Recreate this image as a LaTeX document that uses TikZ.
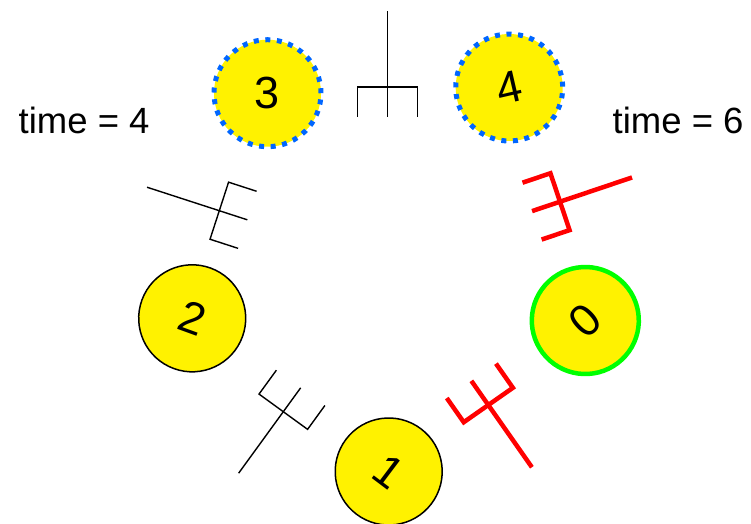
\documentclass[tikz,border=0pt]{standalone}
\usepackage{fontspec}
\setmainfont{Liberation Sans}
\definecolor{dotblue}{RGB}{0,102,255}
\definecolor{eatgreen}{RGB}{0,255,0}
\begin{document}
\begin{tikzpicture}[x=1pt,y=1pt,
  phil/.style={circle, fill=yellow, draw=black, line width=1.5pt,
    minimum size=107pt, inner sep=0pt, font=\fontsize{45}{45}\selectfont},
  eating/.style={draw=eatgreen, line width=4.5pt},
  waiting/.style={draw=dotblue, line width=5pt, dash pattern=on 5pt off 6.6pt},
  idlefork/.style={black, line width=1.4pt},
  heldfork/.style={red, line width=4.5pt},
  timelabel/.style={font=\fontsize{36.5}{36.5}\selectfont, inner sep=0pt, anchor=base west},
  pics/fork/.style={code={
    \draw[line join=miter] (-29.5,0) -- (76,0);
    \draw[line join=miter] (-29.5,30) -- (0,30) -- (0,-30) -- (-29.5,-30);
  }}
]
\useasboundingbox (0,0) rectangle (751,-523);

% philosophers
\node[phil, eating, rotate=43]  (p0) at (585.3,-320.5) {0};
\node[phil, rotate=-37]         (p1) at (388.7,-471.5) {1};
\node[phil, rotate=-20]         (p2) at (192.2,-318.3) {2};
\node[phil, waiting]            (p3) at (267.5,-93.2)  {3};
\node[phil, waiting, rotate=13] (p4) at (509.2,-87.5)  {4};

% forks
\pic[idlefork, rotate=90]  (f34) at (387.5,-87)   {fork};
\pic[idlefork, rotate=162] (f23) at (219.3,-210.7) {fork};
\pic[idlefork, rotate=234] (f12) at (283.3,-411.7) {fork};
\pic[heldfork, rotate=305] (f01) at (488.3,-405)   {fork};
\pic[heldfork, rotate=18.6] (f40) at (560,-201.7) {fork};

% time labels
\node[timelabel] (t4) at (18.5,-133) {time = 4};
\node[timelabel] (t6) at (612.5,-133) {time = 6};
\end{tikzpicture}
\end{document}
